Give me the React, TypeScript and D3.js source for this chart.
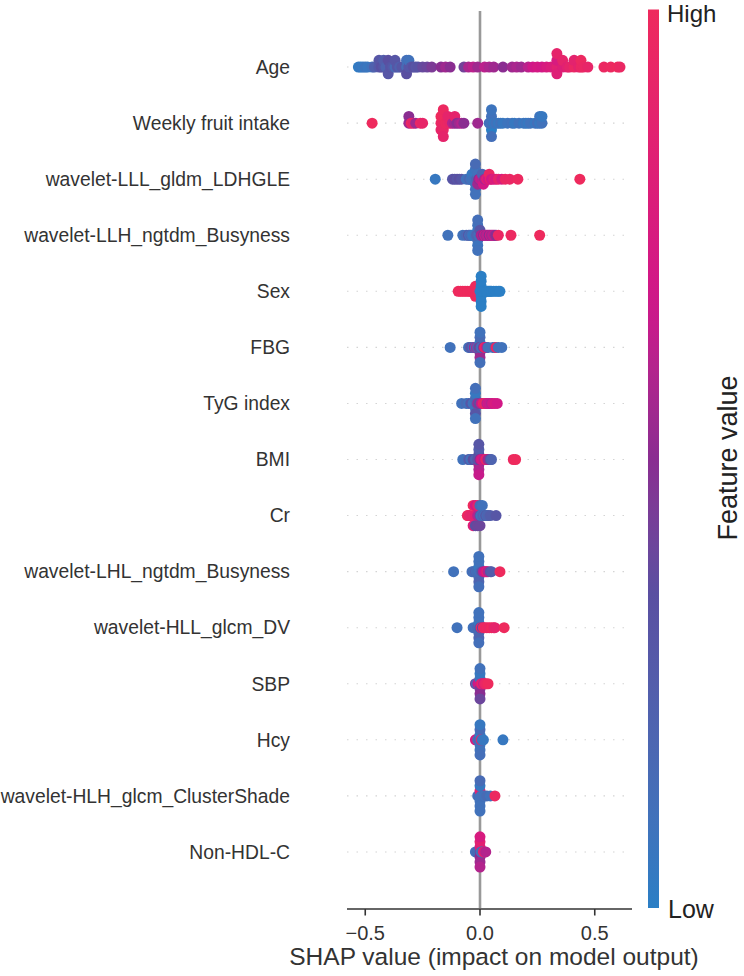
import * as d3 from "d3";

// shap value, normalised feature value
type Pt = [number, number];

const features = [
  "Age",
  "Weekly fruit intake",
  "wavelet-LLL_gldm_LDHGLE",
  "wavelet-LLH_ngtdm_Busyness",
  "Sex",
  "FBG",
  "TyG index",
  "BMI",
  "Cr",
  "wavelet-LHL_ngtdm_Busyness",
  "wavelet-HLL_glcm_DV",
  "SBP",
  "Hcy",
  "wavelet-HLH_glcm_ClusterShade",
  "Non-HDL-C",
];

const age: Pt[] = [
  [-0.53, 0.02], [-0.52, 0.05], [-0.51, 0.04], [-0.5, 0.08], [-0.49, 0.06], [-0.47, 0.1],
  [-0.46, 0.22], [-0.44, 0.28], [-0.44, 0.3], [-0.43, 0.34], [-0.42, 0.3], [-0.42, 0.25],
  [-0.41, 0.2], [-0.4, 0.35], [-0.4, 0.3], [-0.39, 0.32], [-0.38, 0.28], [-0.37, 0.15],
  [-0.37, 0.3], [-0.36, 0.3], [-0.35, 0.22], [-0.34, 0.3],
  [-0.32, 0.15], [-0.32, 0.12], [-0.32, 0.35],
  [-0.31, 0.3], [-0.31, 0.1], [-0.3, 0.3], [-0.29, 0.35], [-0.28, 0.3], [-0.27, 0.32],
  [-0.25, 0.38], [-0.23, 0.4], [-0.21, 0.45],
  [-0.17, 0.5], [-0.15, 0.55], [-0.13, 0.5],
  [-0.07, 0.42], [-0.05, 0.58], [-0.03, 0.62], [-0.01, 0.55], [0.02, 0.62], [0.04, 0.58],
  [0.06, 0.55], [0.1, 0.5], [0.14, 0.55], [0.16, 0.58], [0.18, 0.55], [0.21, 0.62],
  [0.23, 0.68], [0.25, 0.72], [0.27, 0.7], [0.29, 0.75], [0.31, 0.78],
  [0.335, 0.85], [0.335, 0.75], [0.335, 0.82], [0.335, 0.9],
  [0.36, 0.8], [0.36, 0.9], [0.38, 0.85], [0.39, 0.9], [0.41, 0.95], [0.41, 0.88],
  [0.43, 0.88], [0.44, 0.95], [0.44, 0.98], [0.45, 0.95], [0.47, 0.92], [0.54, 0.97],
  [0.57, 0.98], [0.6, 1.0], [0.61, 0.96],
];

const fruit: Pt[] = [
  [-0.47, 1.0],
  [-0.31, 0.55], [-0.31, 0.5], [-0.3, 0.95], [-0.29, 0.9], [-0.28, 0.55], [-0.26, 0.95], [-0.25, 0.92],
  [-0.17, 0.95], [-0.17, 1.0], [-0.17, 0.92],
  [-0.16, 0.95], [-0.16, 1.0], [-0.16, 0.93], [-0.16, 0.98], [-0.16, 0.9],
  [-0.15, 0.97], [-0.14, 0.95], [-0.14, 0.9], [-0.13, 0.92],
  [-0.12, 0.6], [-0.11, 0.55], [-0.11, 0.9], [-0.1, 0.5], [-0.09, 0.55], [-0.08, 0.6], [-0.07, 0.5],
  [-0.01, 0.55],
  [0.05, 0.05], [0.05, 0.1], [0.05, 0.0], [0.05, 0.08], [0.05, 0.12], [0.04, 0.1], [0.06, 0.05],
  [0.07, 0.1], [0.08, 0.05], [0.09, 0.1], [0.1, 0.05], [0.12, 0.08], [0.14, 0.1], [0.15, 0.05],
  [0.17, 0.1], [0.19, 0.05], [0.2, 0.08], [0.21, 0.05], [0.22, 0.1], [0.24, 0.05], [0.25, 0.12],
  [0.26, 0.05], [0.26, 0.08], [0.27, 0.1], [0.27, 0.05],
];

const ldhgle: Pt[] = [
  [-0.195, 0.05],
  [-0.12, 0.3], [-0.11, 0.35], [-0.1, 0.3], [-0.09, 0.35], [-0.08, 0.3],
  [-0.06, 0.1], [-0.05, 0.1], [-0.045, 0.2], [-0.04, 0.1], [-0.035, 0.05], [-0.03, 0.1],
  [-0.02, 0.1], [-0.02, 0.05], [-0.02, 0.12], [-0.02, 0.08], [-0.02, 0.1], [-0.02, 0.15], [-0.02, 0.1],
  [-0.015, 0.2], [-0.01, 0.1], [-0.01, 0.55], [-0.005, 0.5],
  [0.0, 0.6], [0.005, 0.65], [0.01, 0.6], [0.01, 0.2], [0.015, 0.7], [0.02, 0.55], [0.025, 0.65],
  [0.03, 0.9], [0.035, 0.7], [0.04, 0.95], [0.045, 0.92], [0.05, 0.7], [0.06, 0.8], [0.07, 0.75],
  [0.08, 0.9], [0.095, 0.75], [0.11, 0.95], [0.13, 0.95], [0.165, 0.98], [0.435, 1.0],
];

const llhBusy: Pt[] = [
  [-0.14, 0.1],
  [-0.075, 0.1], [-0.06, 0.15], [-0.05, 0.3], [-0.045, 0.1], [-0.04, 0.2], [-0.035, 0.1], [-0.03, 0.05],
  [-0.01, 0.1], [-0.01, 0.05], [-0.01, 0.15], [-0.01, 0.1], [-0.01, 0.08], [-0.01, 0.12], [-0.01, 0.1],
  [-0.02, 0.1], [-0.015, 0.2], [-0.005, 0.1], [0.0, 0.15], [0.0, 0.3], [0.005, 0.55], [0.01, 0.6],
  [0.015, 0.5], [0.02, 0.7], [0.025, 0.55], [0.03, 0.6], [0.035, 0.65], [0.04, 0.5], [0.045, 0.7],
  [0.05, 0.55], [0.055, 0.6], [0.06, 0.65], [0.065, 0.55], [0.07, 0.5], [0.08, 0.95], [0.135, 0.98],
  [0.26, 1.0],
];

const sex: Pt[] = [
  [-0.095, 1], [-0.085, 1], [-0.075, 1], [-0.065, 1], [-0.055, 1], [-0.045, 1], [-0.04, 1],
  [-0.035, 1], [-0.03, 1], [-0.025, 1], [-0.02, 1], [-0.02, 1], [-0.02, 1], [-0.015, 1], [-0.01, 1],
  [0.005, 0], [0.005, 0], [0.005, 0], [0.005, 0], [0.005, 0], [0.005, 0], [0.005, 0],
  [0.0, 0], [0.01, 0], [0.015, 0], [0.02, 0], [0.025, 0], [0.03, 0], [0.035, 0], [0.04, 0],
  [0.045, 0], [0.05, 0], [0.06, 0], [0.07, 0], [0.08, 0], [0.087, 0],
];

const fbg: Pt[] = [
  [-0.13, 0.1],
  [-0.05, 0.1], [-0.045, 0.15], [-0.04, 0.3], [-0.03, 0.1], [-0.025, 0.55], [-0.02, 0.1], [-0.015, 0.6],
  [0.0, 0.1], [0.0, 0.05], [0.0, 0.45], [0.0, 0.15], [0.0, 0.55], [0.0, 0.1], [0.0, 0.12],
  [-0.01, 0.1], [-0.005, 0.4], [0.005, 0.15], [0.01, 0.1], [0.015, 0.45], [0.02, 0.95], [0.025, 0.9],
  [0.03, 0.6], [0.035, 0.1], [0.055, 0.1], [0.065, 0.15], [0.07, 0.95], [0.08, 0.1], [0.095, 0.1],
];

const tyg: Pt[] = [
  [-0.08, 0.1], [-0.06, 0.15], [-0.05, 0.1], [-0.04, 0.3], [-0.03, 0.1],
  [-0.02, 0.1], [-0.02, 0.15], [-0.02, 0.1], [-0.02, 0.05], [-0.02, 0.3], [-0.02, 0.12], [-0.02, 0.1],
  [-0.015, 0.2], [-0.01, 0.55], [-0.005, 0.4], [0.0, 0.35], [0.005, 0.6], [0.01, 0.7], [0.015, 0.95],
  [0.02, 0.9], [0.025, 0.95], [0.03, 0.6], [0.035, 0.7], [0.04, 0.65], [0.05, 0.6], [0.055, 0.7],
  [0.065, 0.75], [0.075, 0.7],
];

const bmi: Pt[] = [
  [-0.075, 0.1], [-0.05, 0.2], [-0.045, 0.3], [-0.04, 0.1], [-0.03, 0.35], [-0.02, 0.2],
  [-0.005, 0.4], [-0.005, 0.35], [-0.005, 0.55], [-0.005, 0.25], [-0.005, 0.6], [-0.005, 0.3], [-0.005, 0.65],
  [-0.01, 0.3], [0.0, 0.5], [0.005, 0.65], [0.01, 0.75], [0.015, 0.7], [0.02, 0.6], [0.025, 0.95],
  [0.03, 0.9], [0.035, 0.55], [0.045, 0.3], [0.05, 0.2], [0.145, 0.98], [0.155, 1.0],
];

const cr: Pt[] = [
  [-0.055, 0.95], [-0.05, 1.0], [-0.045, 0.9],
  [-0.03, 0.9], [-0.03, 1.0], [-0.03, 0.8],
  [-0.02, 0.85], [-0.02, 0.7], [-0.02, 0.35],
  [-0.01, 0.6], [-0.01, 0.9], [-0.01, 0.4],
  [0.0, 0.3], [0.0, 0.15], [0.0, 0.4],
  [0.005, 0.1], [0.01, 0.15], [0.01, 0.1], [0.015, 0.2], [0.02, 0.1], [0.025, 0.3], [0.03, 0.15],
  [0.035, 0.2], [0.045, 0.25], [0.07, 0.3],
];

const lhlBusy: Pt[] = [
  [-0.115, 0.1], [-0.035, 0.1], [-0.03, 0.15], [-0.025, 0.1], [-0.02, 0.2], [-0.015, 0.1], [-0.01, 0.15],
  [-0.005, 0.1], [-0.005, 0.05], [-0.005, 0.15], [-0.005, 0.1], [-0.005, 0.2], [-0.005, 0.1], [-0.005, 0.12],
  [0.0, 0.1], [0.005, 0.2], [0.01, 0.3], [0.015, 0.6], [0.02, 0.65], [0.025, 0.7], [0.03, 0.9],
  [0.035, 0.6], [0.045, 0.3], [0.05, 0.25], [0.087, 1.0],
];

const hllDv: Pt[] = [
  [-0.1, 0.1], [-0.03, 0.1], [-0.02, 0.15], [-0.015, 0.1], [-0.01, 0.2],
  [-0.005, 0.1], [-0.005, 0.05], [-0.005, 0.15], [-0.005, 0.1], [-0.005, 0.2], [-0.005, 0.1], [-0.005, 0.12],
  [0.0, 0.3], [0.005, 0.95], [0.01, 0.4], [0.015, 1.0], [0.02, 0.95], [0.03, 0.98], [0.04, 0.95],
  [0.05, 1.0], [0.06, 0.95], [0.065, 0.9], [0.105, 1.0],
];

const sbp: Pt[] = [
  [-0.02, 0.45], [-0.015, 0.1], [-0.01, 0.6], [-0.005, 0.7],
  [0.0, 0.75], [0.0, 0.1], [0.0, 0.45], [0.0, 0.05], [0.0, 0.5], [0.0, 0.1], [0.0, 0.4],
  [0.005, 0.8], [0.01, 0.95], [0.015, 0.65], [0.02, 0.9], [0.025, 0.95], [0.035, 1.0],
];

const hcy: Pt[] = [
  [-0.02, 0.7], [-0.015, 0.8], [-0.01, 0.1], [-0.005, 0.2],
  [0.0, 0.1], [0.0, 0.05], [0.0, 0.1], [0.0, 0.15], [0.0, 0.1], [0.0, 0.05], [0.0, 0.12],
  [0.005, 0.9], [0.01, 0.1], [0.015, 0.05], [0.1, 0.05],
];

const hlhShade: Pt[] = [
  [-0.01, 0.1], [-0.005, 0.15],
  [0.0, 0.1], [0.0, 0.85], [0.0, 0.1], [0.0, 0.05], [0.0, 0.1], [0.0, 0.15], [0.0, 0.1],
  [0.005, 0.1], [0.01, 0.12], [0.02, 0.1], [0.03, 0.15], [0.045, 0.1], [0.065, 0.98],
];

const nonHdl: Pt[] = [
  [-0.02, 0.1], [-0.01, 0.2], [-0.005, 0.05],
  [0.0, 0.4], [0.0, 0.8], [0.0, 0.5], [0.0, 0.85], [0.0, 0.55], [0.0, 0.75], [0.0, 0.6],
  [0.005, 0.1], [0.01, 0.15], [0.015, 0.9], [0.02, 0.8], [0.025, 0.6],
];

const rows: Pt[][] = [
  age, fruit, ldhgle, llhBusy, sex, fbg, tyg, bmi, cr, lhlBusy, hllDv, sbp, hcy, hlhShade, nonHdl,
];

const xTicks = [-0.5, 0, 0.5];

const W = 744;
const H = 976;
const plot = { left: 347, right: 632, top: 11, bottom: 908 };
const font = "'Liberation Sans', Arial, Helvetica, sans-serif";

const x = d3.scaleLinear().domain([-0.5795, 0.6623]).range([plot.left, plot.right]);
// rows sit at integer positions; the axes run from -1 to n
const y = d3.scaleLinear().domain([-1, features.length]).range([plot.top, plot.bottom]);
const rowStep = y(1) - y(0);

const color = d3
  .scaleLinear<string>()
  .domain([0, 0.35, 0.5, 0.67, 1])
  .range(["#2b7fc5", "#5a4fa1", "#8a2d91", "#cf168a", "#ee2a5d"])
  .interpolate(d3.interpolateLab);

// vertical jitter: bin the values and stack points alternating up / down
function swarm(vals: number[]): number[] {
  const lo = d3.min(vals)!;
  const hi = d3.max(vals)!;
  const nbins = 100;
  const quant = vals.map((v) => Math.round((nbins * (v - lo)) / (hi - lo + 1e-8)));
  const order = d3.range(vals.length).sort((a, b) => quant[a] - quant[b] || a - b);
  const ys = new Array(vals.length).fill(0);
  let layer = 0;
  let last = -1;
  for (const i of order) {
    if (quant[i] !== last) layer = 0;
    ys[i] = Math.ceil(layer / 2) * ((layer % 2) * 2 - 1);
    layer++;
    last = quant[i];
  }
  const k = 0.9 * (0.4 / (d3.max(ys)! + 1));
  return ys.map((v) => v * k);
}

const App = () => {
  const gradStops = d3.range(0, 1.0001, 0.05);

  return (
    <div style={{ position: "absolute", left: 0, top: 0 }}>
      <svg width={W} height={H} style={{ display: "block", background: "#fff" }} fontFamily={font}>
        <defs>
          <linearGradient id="fv" x1="0" y1="1" x2="0" y2="0">
            {gradStops.map((t) => (
              <stop key={t} offset={t} stopColor={color(t)} />
            ))}
          </linearGradient>
        </defs>

        {/* dotted row guides */}
        {features.map((f, i) => (
          <line
            key={f}
            x1={plot.left}
            x2={plot.right}
            y1={y(i)}
            y2={y(i)}
            stroke="#d4d4d4"
            strokeWidth={1.1}
            strokeDasharray="1.5 8"
          />
        ))}

        {/* zero line */}
        <line x1={x(0)} x2={x(0)} y1={plot.top} y2={plot.bottom} stroke="#999999" strokeWidth={2.6} />

        {/* points */}
        {rows.map((pts, i) => {
          const ys = swarm(pts.map((p) => p[0]));
          return (
            <g key={features[i]}>
              {pts.map((p, j) => (
                <circle
                  key={j}
                  cx={x(p[0])}
                  cy={y(i) - ys[j] * rowStep}
                  r={5.5}
                  fill={color(p[1])}
                />
              ))}
            </g>
          );
        })}

        {/* feature labels */}
        {features.map((f, i) => (
          <text
            key={f}
            x={290}
            y={y(i)}
            dy="0.35em"
            textAnchor="end"
            fontSize={19.3}
            fill="#333333"
          >
            {f}
          </text>
        ))}

        {/* x axis */}
        <line x1={plot.left} x2={plot.right} y1={plot.bottom + 1} y2={plot.bottom + 1} stroke="#333333" strokeWidth={1.6} />
        {xTicks.map((t) => (
          <g key={t} transform={`translate(${x(t)},${plot.bottom + 1})`}>
            <line y1={0} y2={6.5} stroke="#333333" strokeWidth={1.6} />
            <text y={31} textAnchor="middle" fontSize={20} fill="#333333">
              {d3.format(".1f")(t).replace("-", "\u2212")}
            </text>
          </g>
        ))}
        <text x={494} y={965} textAnchor="middle" fontSize={24.5} fill="#333333">
          SHAP value (impact on model output)
        </text>

        {/* colour bar */}
        <rect x={648} y={9.5} width={11} height={898.5} fill="url(#fv)" />
        <text x={667} y={22} fontSize={24} fill="#222222">
          High
        </text>
        <text x={668} y={918} fontSize={25} fill="#222222">
          Low
        </text>
        <text
          transform={`translate(737,458) rotate(-90)`}
          textAnchor="middle"
          fontSize={27}
          fill="#222222"
        >
          Feature value
        </text>
      </svg>
    </div>
  );
};

export default App;
